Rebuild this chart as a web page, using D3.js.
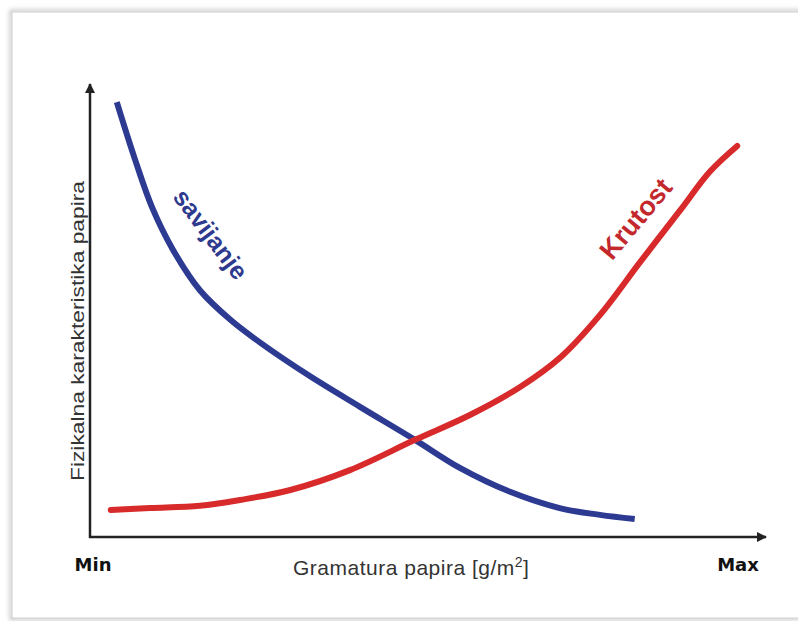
<!DOCTYPE html>
<html>
<head>
<meta charset="utf-8">
<script src="https://cdn.jsdelivr.net/npm/d3@7"></script>
<style>
body { margin:0; background:#fff; }
svg { display:block; }
</style>
</head>
<body>
<svg id="chart" width="798" height="621"></svg>
<script>
// podaci (relativne vrijednosti 0-100, ocitane sa slike)
var savijanjeX = [4.0, 6.7, 9.3, 12.4, 16.4, 21.0, 25.4, 32.8, 40.3, 48.5, 55.2, 62.7, 70.1, 76.1, 81.3];
var savijanjeY = [96.2, 83.6, 72.8, 63.5, 54.6, 48.0, 43.0, 35.6, 28.8, 21.5, 15.3, 10.0, 6.4, 4.9, 4.0];
var krutostX = [3.1, 9.0, 16.4, 22.4, 29.9, 38.8, 48.5, 56.7, 64.2, 70.1, 76.1, 82.1, 88.1, 92.5, 96.6];
var krutostY = [6.0, 6.4, 6.9, 8.2, 10.4, 14.8, 21.5, 27.0, 33.2, 39.6, 49.1, 60.8, 72.3, 80.8, 86.5];
var xTicks = ['Min', 'Max'];

var svg = d3.select('#chart');

// okvir sa sjenom
var defs = svg.append('defs');
var f = defs.append('filter').attr('id', 'sh').attr('x', '-5%').attr('y', '-5%').attr('width', '110%').attr('height', '110%');
f.append('feGaussianBlur').attr('in', 'SourceGraphic').attr('stdDeviation', 2);
svg.append('rect').attr('x', 11).attr('y', 11).attr('width', 800).attr('height', 608)
  .attr('fill', 'none').attr('stroke', '#c4c4c4').attr('stroke-width', 3).attr('filter', 'url(#sh)');
svg.append('rect').attr('x', 12).attr('y', 12).attr('width', 800).attr('height', 606)
  .attr('fill', '#fff').attr('stroke', '#cfcfcf').attr('stroke-width', 1);

var x = d3.scaleLinear().domain([0, 100]).range([90, 760]);
var y = d3.scaleLinear().domain([0, 100]).range([537, 85]);

// strelice
var m = defs.append('marker').attr('id', 'arr').attr('viewBox', '0 0 10 10')
  .attr('refX', 9).attr('refY', 5).attr('markerWidth', 4).attr('markerHeight', 4)
  .attr('orient', 'auto');
m.append('path').attr('d', 'M0,0 L10,5 L0,10 z').attr('fill', '#222');

svg.append('line').attr('x1', x(0)).attr('y1', y(0) + 1).attr('x2', x(0)).attr('y2', 84)
  .attr('stroke', '#222').attr('stroke-width', 2.5).attr('marker-end', 'url(#arr)');
svg.append('line').attr('x1', x(0) - 1).attr('y1', y(0)).attr('x2', 766).attr('y2', y(0))
  .attr('stroke', '#222').attr('stroke-width', 2.5).attr('marker-end', 'url(#arr)');

var line = d3.line().x(function(d) { return x(d[0]); }).y(function(d) { return y(d[1]); })
  .curve(d3.curveCatmullRom.alpha(0.5));

svg.append('path').datum(d3.zip(savijanjeX, savijanjeY)).attr('d', line)
  .attr('fill', 'none').attr('stroke', '#2c3a92').attr('stroke-width', 6);
svg.append('path').datum(d3.zip(krutostX, krutostY)).attr('d', line)
  .attr('fill', 'none').attr('stroke', '#d82a2a').attr('stroke-width', 6).attr('stroke-linecap', 'round');

// natpisi krivulja
svg.append('text').attr('transform', 'translate(211,234) rotate(53)')
  .attr('text-anchor', 'middle').attr('dominant-baseline', 'central')
  .style('font-family', 'Liberation Sans, Arial, sans-serif').style('font-weight', 'bold')
  .style('font-size', '25px').style('fill', '#2e3a8e').text('savijanje');
svg.append('text').attr('transform', 'translate(636,219) rotate(-50)')
  .attr('text-anchor', 'middle').attr('dominant-baseline', 'central')
  .style('font-family', 'Liberation Sans, Arial, sans-serif').style('font-weight', 'bold')
  .style('font-size', '27px').style('fill', '#c3282c').text('Krutost');

// oznake osi
svg.append('text').attr('x', 93).attr('y', 571).attr('text-anchor', 'middle')
  .style('font-family', 'DejaVu Sans, Verdana, sans-serif').style('font-weight', 'bold')
  .style('font-size', '18px').style('fill', '#111').text(xTicks[0]);
svg.append('text').attr('x', 738).attr('y', 571).attr('text-anchor', 'middle')
  .style('font-family', 'DejaVu Sans, Verdana, sans-serif').style('font-weight', 'bold')
  .style('font-size', '18px').style('fill', '#111').text(xTicks[1]);

var xl = svg.append('text').attr('x', 293).attr('y', 575)
  .style('font-family', 'Liberation Sans, Arial, sans-serif')
  .style('font-size', '21px').style('letter-spacing', '0.5px').style('fill', '#333');
xl.append('tspan').text('Gramatura papira [g/m');
xl.append('tspan').attr('dy', -8).style('font-size', '14px').text('2');
xl.append('tspan').attr('dy', 8).text(']');

svg.append('text').attr('transform', 'translate(84,331) rotate(-90)')
  .attr('text-anchor', 'middle')
  .attr('textLength', 300).attr('lengthAdjust', 'spacingAndGlyphs')
  .style('font-family', 'Liberation Sans, Arial, sans-serif')
  .style('font-size', '18px').style('fill', '#333').text('Fizikalna karakteristika papira');
</script>
</body>
</html>
